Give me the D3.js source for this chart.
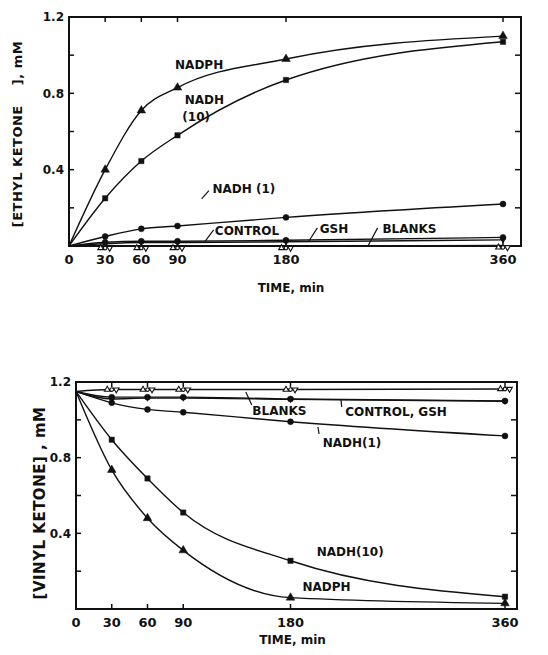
<!DOCTYPE html>
<html>
<head>
<meta charset="utf-8">
<script src="https://cdn.jsdelivr.net/npm/d3@7"></script>
<style>
  body { margin: 0; background: #fff; }
  svg { display: block; font-family: "DejaVu Sans", sans-serif; font-weight: bold; }
</style>
</head>
<body>
<svg id="graph" width="548" height="655"></svg>
<script>
// sampling times (min)
const times = [0, 30, 60, 90, 180, 360];
const xTickLabels = ["0", "30", "60", "90", "180", "360"];
const yTickValues = [0.4, 0.8, 1.2];
const yTickLabels = ["0.4", "0.8", "1.2"];
const yMinorTicks = [0.2, 0.4, 0.6, 0.8, 1.0];

// top panel: ethyl ketone formed (mM)
const ethylNadph = [0, 0.40, 0.71, 0.83, 0.98, 1.10];
const ethylNadh10 = [0, 0.25, 0.445, 0.58, 0.87, 1.07];
const ethylNadh1 = [0, 0.05, 0.09, 0.105, 0.15, 0.22];
const ethylControl = [0, 0.02, 0.025, 0.025, 0.03, 0.045];
const ethylGsh = [0, 0.012, 0.018, 0.018, 0.022, 0.032];
const ethylBlanks = [0, 0, 0, 0, 0, 0.003];

// bottom panel: vinyl ketone remaining (mM)
const vinylNadph = [1.15, 0.735, 0.48, 0.31, 0.06, 0.03];
const vinylNadh10 = [1.15, 0.895, 0.69, 0.51, 0.255, 0.065];
const vinylNadh1 = [1.15, 1.09, 1.055, 1.04, 0.99, 0.915];
const vinylControl = [1.15, 1.12, 1.12, 1.12, 1.11, 1.10];
const vinylGsh = [1.15, 1.11, 1.115, 1.115, 1.108, 1.098];
const vinylBlanks = [1.15, 1.16, 1.16, 1.16, 1.16, 1.163];

const svg = d3.select("#graph");
const ink = "#111";

function drawPanel(p) {
  const x = d3.scaleLinear().domain([0, 360]).range([p.left, p.x360]);
  const y = d3.scaleLinear().domain([0, 1.2]).range([p.bottom, p.top]);
  const g = svg.append("g");

  // frame
  g.append("rect")
    .attr("x", p.left).attr("y", p.top)
    .attr("width", p.right - p.left).attr("height", p.bottom - p.top)
    .attr("fill", "none").attr("stroke", ink).attr("stroke-width", 2);

  // inward ticks
  g.append("g").selectAll("line.l").data(yMinorTicks).join("line")
    .attr("x1", p.left).attr("x2", p.left + 5)
    .attr("y1", d => y(d)).attr("y2", d => y(d));
  g.append("g").selectAll("line.r").data(yMinorTicks).join("line")
    .attr("x1", p.right).attr("x2", p.right - 6)
    .attr("y1", d => y(d)).attr("y2", d => y(d));
  g.append("g").selectAll("line.t").data(times.slice(1)).join("line")
    .attr("x1", d => x(d)).attr("x2", d => x(d))
    .attr("y1", p.top).attr("y2", p.top + 5);
  g.append("g").selectAll("line.b").data(times.slice(1)).join("line")
    .attr("x1", d => x(d)).attr("x2", d => x(d))
    .attr("y1", p.bottom).attr("y2", p.bottom - 5);
  g.selectAll("g line").attr("stroke", ink).attr("stroke-width", 1.5);

  // tick labels
  g.append("g").selectAll("text").data(times).join("text")
    .attr("x", d => x(d)).attr("y", p.bottom + p.xLabelDy)
    .attr("text-anchor", "middle").attr("font-size", 13).attr("fill", ink)
    .text((d, i) => xTickLabels[i]);
  g.append("g").selectAll("text").data(yTickValues).join("text")
    .attr("x", p.left - 5).attr("y", d => y(d)).attr("dy", "0.35em")
    .attr("text-anchor", "end").attr("font-size", 12).attr("fill", ink)
    .text((d, i) => yTickLabels[i]);

  // axis titles
  g.append("text")
    .attr("x", (p.left + p.right) / 2 - 4).attr("y", p.bottom + p.xTitleDy)
    .attr("text-anchor", "middle").attr("font-size", 12).attr("fill", ink)
    .text("TIME, min");
  g.append("text")
    .attr("transform", `translate(${p.yTitleX},${p.yTitleY}) rotate(-90)`)
    .attr("text-anchor", "middle").attr("font-size", p.yTitleSize)
    .attr("letter-spacing", 0.5).attr("fill", ink)
    .style("white-space", "pre")
    .text(p.yTitle);

  // series
  const line = d3.line()
    .x((d, i) => x(times[i])).y(d => y(d))
    .curve(d3.curveMonotoneX);
  p.series.forEach(s => {
    g.append("path").datum(s.values)
      .attr("d", line).attr("fill", "none")
      .attr("stroke", ink).attr("stroke-width", 1.4);
  });

  const sym = {
    tri: d3.symbol(d3.symbolTriangle, 32),
    sq: d3.symbol(d3.symbolSquare, 28),
    dot: d3.symbol(d3.symbolCircle, 28),
    tri2: d3.symbol(d3.symbolTriangle, 14),
    ring: d3.symbol(d3.symbolCircle, 10)
  };
  p.series.forEach(s => {
    s.marks.forEach(m => {
      g.append("g").selectAll("path")
        .data(s.values.map((v, i) => [times[i], v]).slice(1))
        .join("path")
        .attr("transform", d => `translate(${x(d[0]) + (m.dx || 0)},${y(d[1]) + (m.dy || 0)}) rotate(${m.rot || 0})`)
        .attr("d", sym[m.shape])
        .attr("fill", m.open ? "#fff" : ink)
        .attr("stroke", ink).attr("stroke-width", m.open ? 1.1 : 0.5);
    });
  });

  // annotations
  p.notes.forEach(n => {
    g.append("text")
      .attr("x", x(n.t)).attr("y", y(n.v))
      .attr("font-size", 12).attr("fill", ink)
      .text(n.text);
  });
  p.leaders.forEach(l => {
    g.append("path")
      .attr("d", d3.line()([[x(l[0]), y(l[1])], [x(l[2]), y(l[3])]]))
      .attr("stroke", ink).attr("stroke-width", 1.2).attr("fill", "none");
  });
}

const blankMarks = [
  { shape: "tri2", open: true, dx: -4.5 },
  { shape: "ring", open: true, dx: 0 },
  { shape: "tri2", open: true, dx: 4.5, rot: 180 }
];

drawPanel({
  left: 69, right: 521, x360: 503, top: 17, bottom: 246,
  xLabelDy: 18, xTitleDy: 46,
  yTitle: "[ETHYL KETONE    ], mM", yTitleX: 22, yTitleY: 134, yTitleSize: 13,
  series: [
    { values: ethylNadph, marks: [{ shape: "tri" }] },
    { values: ethylNadh10, marks: [{ shape: "sq" }] },
    { values: ethylNadh1, marks: [{ shape: "dot" }] },
    { values: ethylControl, marks: [{ shape: "dot" }] },
    { values: ethylGsh, marks: [{ shape: "tri2", rot: 180 }] },
    { values: ethylBlanks, marks: blankMarks.map(m => Object.assign({ dy: 2 }, m)) }
  ],
  notes: [
    { text: "NADPH", t: 88, v: 0.93 },
    { text: "NADH", t: 96, v: 0.745 },
    { text: "(10)", t: 94, v: 0.655 },
    { text: "NADH (1)", t: 119, v: 0.28 },
    { text: "CONTROL", t: 121, v: 0.058 },
    { text: "GSH", t: 208, v: 0.068 },
    { text: "BLANKS", t: 260, v: 0.068 }
  ],
  leaders: [
    [110, 0.247, 116, 0.29],
    [113, 0.026, 120, 0.085],
    [199, 0.026, 206, 0.095],
    [248, 0.0, 256, 0.095]
  ]
});

drawPanel({
  left: 76, right: 517, x360: 505, top: 382, bottom: 609,
  xLabelDy: 18, xTitleDy: 35,
  yTitle: "[VINYL KETONE] , mM", yTitleX: 45, yTitleY: 503, yTitleSize: 15,
  series: [
    { values: vinylNadph, marks: [{ shape: "tri" }] },
    { values: vinylNadh10, marks: [{ shape: "sq" }] },
    { values: vinylNadh1, marks: [{ shape: "dot" }] },
    { values: vinylControl, marks: [{ shape: "dot" }] },
    { values: vinylGsh, marks: [{ shape: "tri2", rot: 180 }] },
    { values: vinylBlanks, marks: blankMarks }
  ],
  notes: [
    { text: "BLANKS", t: 148, v: 1.025 },
    { text: "CONTROL, GSH", t: 226, v: 1.02 },
    { text: "NADH(1)", t: 207, v: 0.856 },
    { text: "NADH(10)", t: 202, v: 0.28 },
    { text: "NADPH", t: 190, v: 0.095 }
  ],
  leaders: [
    [142.5, 1.147, 147.5, 1.078],
    [222.4, 1.105, 223, 1.068],
    [203, 0.962, 204, 0.925]
  ]
});
</script>
</body>
</html>
